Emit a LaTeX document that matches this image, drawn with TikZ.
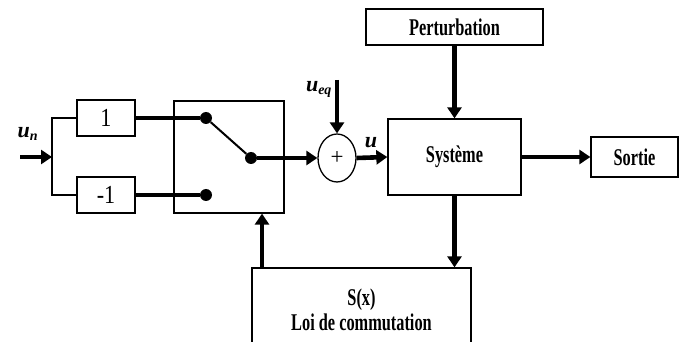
\documentclass[tikz,border=0pt]{standalone}
\usepackage{fontspec}
\setmainfont{Liberation Serif}
\newfontfamily\lblfont[FakeStretch=0.68]{Liberation Serif}
\newfontfamily\numfont[FakeStretch=0.85]{Liberation Serif}
\usetikzlibrary{arrows.meta,shapes.geometric}
\begin{document}
\begin{tikzpicture}[x=1pt,y=-1pt,
  blk/.style={draw,line width=1.3pt,inner sep=0pt,font=\lblfont\fontsize{24}{25}\bfseries\selectfont,align=center},
  num/.style={draw,line width=1.3pt,inner sep=0pt,font=\numfont\fontsize{26}{27}\selectfont},
  thin/.style={line width=2pt},
  thk/.style={line width=4.6pt},
  arr/.style={line width=4.6pt,-{Triangle[length=11pt,width=14pt]}},
  dot/.style={circle,fill=black,inner sep=0pt,minimum size=12pt},
  mlab/.style={font=\fontsize{22}{24}\selectfont\bfseries\itshape}]
\useasboundingbox (0,0) rectangle (681,342);
\clip (0,0) rectangle (681,342);
% blocks
\node[num,minimum width=58pt,minimum height=36pt] (b1) at (106,118) {1};
\node[num,minimum width=58pt,minimum height=36pt] (bm1) at (106,195) {-1};
\node[draw,line width=1.3pt,minimum width=110pt,minimum height=112pt] (sw) at (229,157) {};
\node[dot] (d1) at (206,118) {};
\node[dot] (d2) at (206,195) {};
\node[dot] (d3) at (251,158) {};
\node[ellipse,draw,line width=1.3pt,minimum width=38pt,minimum height=48pt,inner sep=0pt,font=\fontsize{23}{24}\selectfont] (sum) at (337,158) {+};
\node[blk,minimum width=133pt,minimum height=76pt] (sys) at (454.5,157) {Système};
\node[blk,minimum width=177pt,minimum height=36pt] (pert) at (454.5,27) {Perturbation};
\node[blk,minimum width=87pt,minimum height=40pt] (out) at (634.5,157) {Sortie};
\node[blk,minimum width=219pt,minimum height=84pt] (sx) at (361.5,310) {S(x)\\[0pt]Loi de commutation};
% coordinates
\coordinate (in) at (20,157);
\coordinate (br) at (52,157);
\coordinate (ueq) at (337,80);
% connectors
\draw[arr] (in) -- (br);
\draw[thin] (b1.west) -| (br) |- (bm1.west);
\draw[thk] (b1.east) -- (d1);
\draw[thk] (bm1.east) -- (d2);
\draw[thin] (d1) -- (d3);
\draw[arr] (d3) -- (sum.west);
\draw[arr] (ueq) -- (sum.north);
\draw[arr] (sum.east) -- (sys.west);
\draw[arr] (pert.south) -- (sys.north);
\draw[arr] (sys.east) -- (out.west);
\draw[arr] (sys.south) -- (sys.south |- sx.north);
\draw[arr] (sx.north -| 262,0) -- (262,0 |- sw.south);
% labels
\node[mlab] (lun) at (28,134) {u\textsubscript{\fontsize{14}{15}\selectfont n}};
\node[mlab] (lueq) at (319,89) {u\textsubscript{\fontsize{14}{15}\selectfont eq}};
\node[mlab] (lu) at (371,143) {u};
\end{tikzpicture}
\end{document}
